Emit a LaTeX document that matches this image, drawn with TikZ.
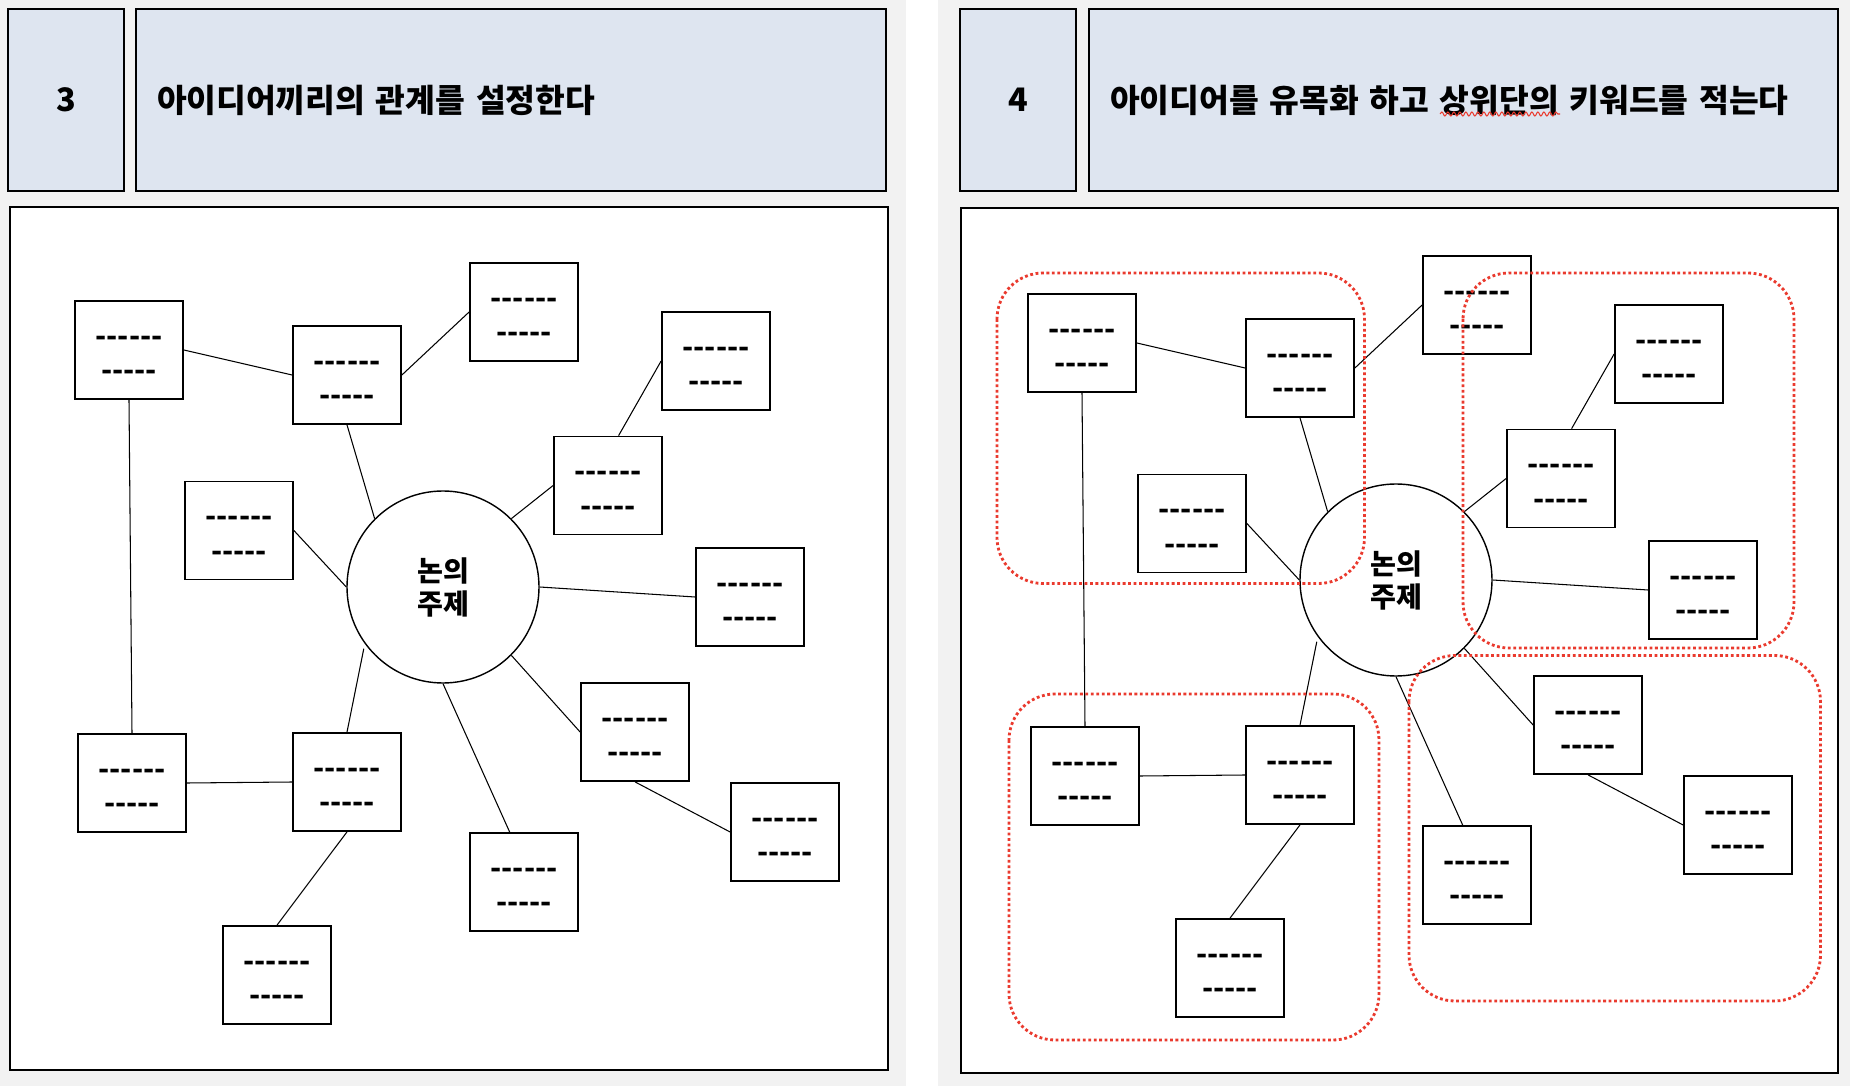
\documentclass[tikz,border=0pt]{standalone}
\usepackage{fontspec}
\setmainfont{Noto Sans CJK KR}[Ligatures=TeXOff]
\usetikzlibrary{decorations.pathmorphing}
\definecolor{pagegray}{HTML}{F2F2F2}
\definecolor{headblue}{HTML}{DEE5F0}
\definecolor{groupred}{HTML}{EA3A2E}

\begin{document}
\begin{tikzpicture}[
    head/.style  = {draw, line width=0.75pt, fill=headblue, inner sep=0pt,
                    minimum height=1.82cm, font=\bfseries\fontsize{9.2}{10}\selectfont},
    panel/.style = {draw, line width=0.75pt, fill=white},
    idea/.style  = {draw, line width=0.5pt, fill=white, inner sep=0pt,
                    minimum width=1.08cm, minimum height=0.98cm, align=center,
                    text height=17.4pt, text depth=0pt,
                    font=\bfseries\fontsize{8.3}{9.7}\selectfont},
    hub/.style   = {draw, circle, line width=0.4pt, fill=white, inner sep=0pt,
                    minimum size=1.92cm, align=center,
                    font=\bfseries\fontsize{8}{9.4}\selectfont},
    link/.style  = {line width=0.3pt},
    group/.style = {draw=groupred, line width=0.8pt, dash pattern=on 0.8pt off 0.75pt,
                    rounded corners=0.46cm}
  ]
  % page
  \fill[pagegray] (0,0) rectangle (18.5,-10.86);
  \fill[white] (9.06,0) rectangle (9.38,-10.86);
  \useasboundingbox (0,0) rectangle (18.5,-10.86);

  % headers
  \node[head, minimum width=1.16cm] (num3) at (0.66,-1.00) {3};
  \node[head, minimum width=7.50cm, text width=7.08cm, inner xsep=0.21cm, align=left]
      (title3) at (5.11,-1.00) {아이디어끼리의 관계를 설정한다};
  \node[head, minimum width=1.16cm] (num4) at (10.18,-1.00) {4};
  \node[head, minimum width=7.49cm, text width=7.07cm, inner xsep=0.21cm, align=left]
      (title4) at (14.635,-1.00) {아이디어를 유목화 하고 상위단의 키워드를 적는다};
  \draw[groupred, line width=0.3pt, decorate,
        decoration={snake, amplitude=0.02cm, segment length=0.06cm}]
      (14.40,-1.14) -- (15.60,-1.14);

  % panels
  \draw[panel] (0.10,-2.07) rectangle (8.88,-10.70);
  \draw[panel] (9.61,-2.08) rectangle (18.38,-10.73);

  % the same map in both panels
  \foreach \dx/\dy/\p in {0/0/a, 9.53/0.07/b} {
    \begin{scope}[shift={(\dx,\dy)}, name prefix=\p-]
      \node[idea] (idea1)  at (1.29,-3.50)  {------\\-----};
      \node[idea] (idea2)  at (3.47,-3.75)  {------\\-----};
      \node[idea] (idea3)  at (5.24,-3.12)  {------\\-----};
      \node[idea] (idea4)  at (7.16,-3.61)  {------\\-----};
      \node[idea] (idea5)  at (6.08,-4.855) {------\\-----};
      \node[idea] (idea6)  at (2.39,-5.305) {------\\-----};
      \node[hub]  (topic)  at (4.43,-5.87)  {논의\\주제};
      \node[idea] (idea7)  at (7.50,-5.97)  {------\\-----};
      \node[idea] (idea8)  at (6.35,-7.32)  {------\\-----};
      \node[idea] (idea9)  at (7.85,-8.32)  {------\\-----};
      \node[idea] (idea10) at (5.24,-8.82)  {------\\-----};
      \node[idea] (idea11) at (3.47,-7.82)  {------\\-----};
      \node[idea] (idea12) at (1.32,-7.83)  {------\\-----};
      \node[idea] (idea13) at (2.77,-9.75)  {------\\-----};

      \draw[link] (idea1.east) -- (idea2.west);
      \draw[link] (idea2.east) -- (idea3.west);
      \draw[link] (idea2.south) -- (topic.135);
      \draw[link] (idea4.west) -- (idea5.78);
      \draw[link] (topic.45) -- (idea5.west);
      \draw[link] (idea6.east) -- (topic.west);
      \draw[link] (topic.east) -- (idea7.west);
      \draw[link] (topic.-45) -- (idea8.west);
      \draw[link] (idea8.south) -- (idea9.west);
      \draw[link] (topic.south) -- (idea10.106);
      \draw[link, shorten <=0.05cm] (topic.216) -- (idea11.north);
      \draw[link] (idea1.south) -- (idea12.north);
      \draw[link] (idea12.east) -- (idea11.west);
      \draw[link] (idea11.south) -- (idea13.north);
    \end{scope}
  }

  % groups
  \draw[group] (9.97,-2.73) rectangle (13.645,-5.835);
  \draw[group] (14.63,-2.73) rectangle (17.94,-6.48);
  \draw[group] (10.09,-6.94) rectangle (13.79,-10.40);
  \draw[group] (14.09,-6.555) rectangle (18.205,-10.01);
\end{tikzpicture}
\end{document}
